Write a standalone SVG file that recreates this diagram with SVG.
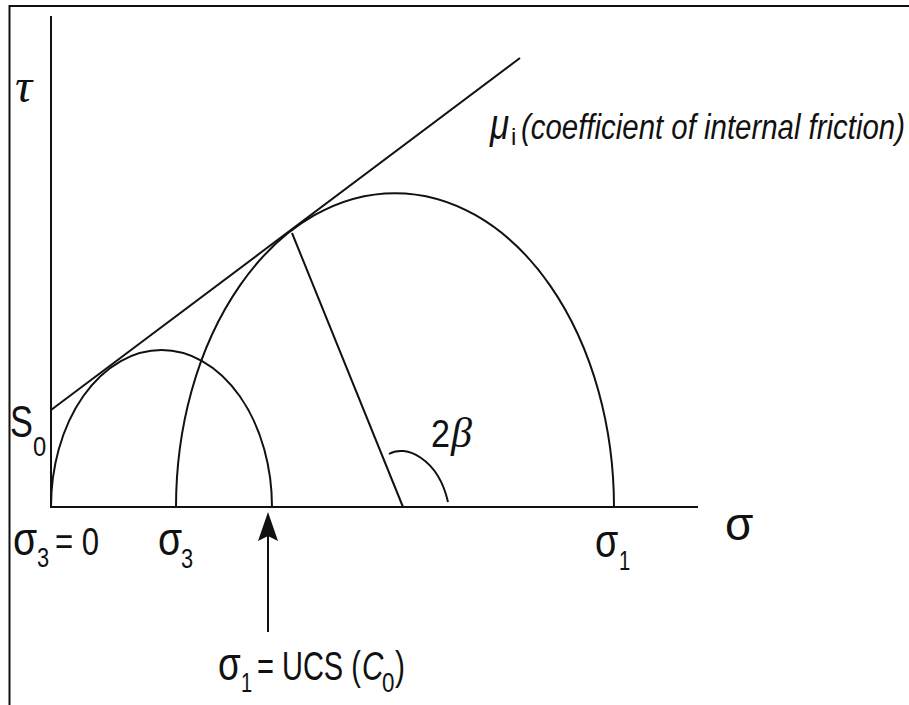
<svg xmlns="http://www.w3.org/2000/svg" width="909" height="705" viewBox="0 0 909 705">
<style>
.ln{fill:none;stroke:#111;stroke-width:2}
.t{font-family:"Liberation Sans",Arial,sans-serif;fill:#111}
.s{font-family:"Liberation Serif","Times New Roman",serif;font-style:italic;fill:#111}
.big{font-size:46px}
.sub{font-size:28px}
.mid{font-size:38px}
</style>
<rect width="909" height="705" fill="#fff"/>
<g id="frame">
<path class="ln" d="M9.5,705 V6 H909" stroke-width="2.5"/>
</g>
<g id="axes">
<path class="ln" d="M51,16 V507 H698"/>
</g>
<g id="circles">
<path class="ln" d="M51,507 A110.5,157 0 0 1 272,507"/>
<path class="ln" d="M176,507 A219,314 0 0 1 614,507"/>
</g>
<g id="connectors">
<path class="ln" d="M51,410 L520,58"/>
<path class="ln" d="M292,233 L403,507"/>
<path class="ln" d="M389,454 C405,444 438,458 448,502"/>
<path class="ln" d="M268,632 V535"/>
<path d="M268,512 L278,541 L268,536 L258,541 Z" fill="#111"/>
</g>
<g id="labels">
<text class="s" x="15" y="102" font-size="48">τ</text>
<text class="t" transform="translate(10,437) scale(0.78,1)" font-size="44">S</text>
<text class="t sub" transform="translate(33,456) scale(0.85,1)">0</text>
<text class="t big" transform="translate(13,555) scale(0.85,1)">σ</text>
<text class="t sub" transform="translate(37,567) scale(0.78,1)">3</text>
<text class="t mid" transform="translate(55,555) scale(0.82,1)">= 0</text>
<text class="t big" transform="translate(158,555) scale(0.85,1)">σ</text>
<text class="t sub" transform="translate(181,568) scale(0.78,1)">3</text>
<text class="t big" transform="translate(595,557) scale(0.82,1)">σ</text>
<text class="t sub" transform="translate(619,570) scale(0.72,1)">1</text>
<text class="t big" x="725" y="540">σ</text>
<text class="t mid" transform="translate(431,447) scale(0.9,1)">2</text>
<text class="s" x="451" y="447" font-size="42">β</text>
<text class="t big" transform="translate(218,680) scale(0.8,1)">σ</text>
<text class="t sub" transform="translate(241,692) scale(0.72,1)">1</text>
<text class="t" transform="translate(257,680) scale(0.725,1)" font-size="40">= UCS (</text>
<text class="t" transform="translate(362,680) scale(0.74,1)" font-size="40" font-style="italic">C</text>
<text class="t sub" transform="translate(382,692) scale(0.8,1)">0</text>
<text class="t" transform="translate(395,680) scale(0.75,1)" font-size="40">)</text>
<text class="t" transform="translate(490,139) scale(0.83,1)" font-size="42" font-style="italic">μ</text>
<text class="t" x="511" y="145" font-size="24">i</text>
<text class="t" transform="translate(521,139) scale(0.817,1)" font-size="36" font-style="italic">(coefficient of internal friction)</text>
</g>
</svg>
